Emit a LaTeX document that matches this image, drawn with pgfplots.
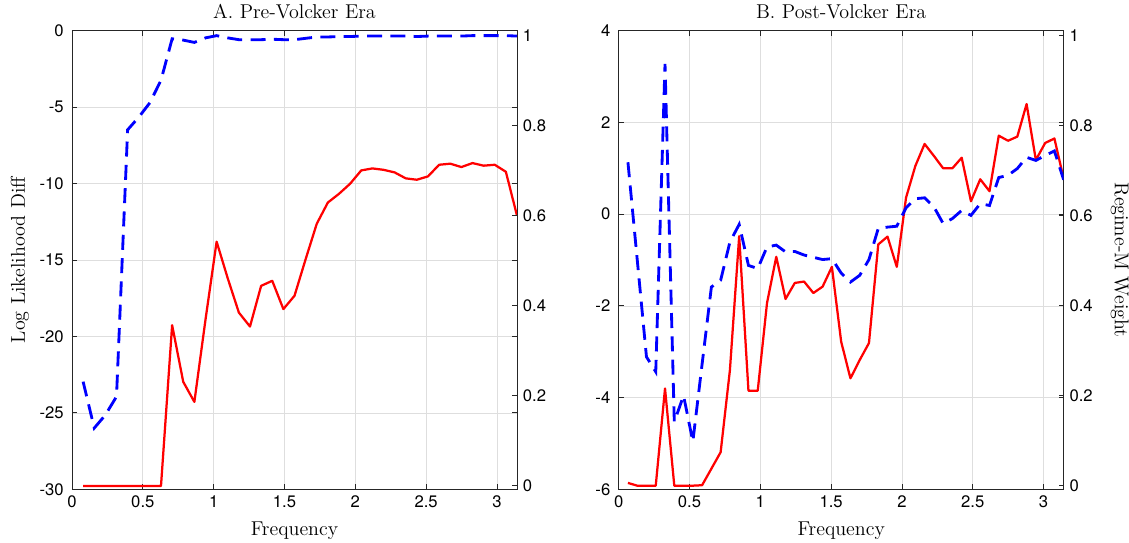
\documentclass[border=0pt]{standalone}
\usepackage{fontspec}
\usepackage{pgfplots}
\usepackage{pgfplotstable}
\pgfplotsset{compat=1.18}
\newfontfamily\heros{TeX Gyre Heros}
\definecolor{axcol}{RGB}{38,38,38}
\definecolor{gridcol}{RGB}{222,222,222}

% Pre-Volcker: x, log likelihood diff (left), regime-M weight (right)
\pgfplotstableread{
x llr w
0.0785 -29.78 0.231
0.1571 -29.78 0.128
0.2356 -29.78 0.157
0.3142 -29.78 0.198
0.3927 -29.78 0.790
0.4712 -29.78 0.818
0.5498 -29.78 0.850
0.6283 -29.78 0.900
0.7069 -19.26 0.992
0.7854 -22.97 0.989
0.8639 -24.28 0.984
0.9425 -18.90 0.994
1.0210 -13.80 0.999
1.0996 -16.20 0.994
1.1781 -18.44 0.990
1.2566 -19.35 0.990
1.3352 -16.69 0.990
1.4137 -16.36 0.991
1.4923 -18.21 0.990
1.5708 -17.34 0.990
1.6493 -14.95 0.993
1.7279 -12.63 0.996
1.8064 -11.24 0.996
1.8850 -10.67 0.997
1.9635 -10.01 0.997
2.0420 -9.14 0.998
2.1206 -9.01 0.998
2.1991 -9.10 0.998
2.2777 -9.27 0.998
2.3562 -9.66 0.998
2.4347 -9.75 0.997
2.5133 -9.53 0.998
2.5918 -8.77 0.998
2.6704 -8.70 0.998
2.7489 -8.92 0.998
2.8274 -8.66 0.999
2.9060 -8.83 0.999
2.9845 -8.77 0.999
3.0631 -9.23 0.999
3.1416 -12.10 0.998
}\dataA

% Post-Volcker
\pgfplotstableread{
x llr w
0.0654 -5.86 0.718
0.1309 -5.92 0.502
0.1963 -5.92 0.286
0.2618 -5.92 0.253
0.3272 -3.80 0.936
0.3927 -5.92 0.142
0.4581 -5.92 0.200
0.5236 -5.92 0.098
0.5890 -5.91 0.270
0.6545 -5.55 0.441
0.7199 -5.19 0.456
0.7854 -3.40 0.541
0.8508 -0.48 0.580
0.9163 -3.85 0.489
0.9817 -3.85 0.482
1.0472 -1.94 0.530
1.1126 -0.93 0.534
1.1781 -1.85 0.519
1.2435 -1.50 0.520
1.3090 -1.47 0.512
1.3744 -1.72 0.507
1.4399 -1.58 0.502
1.5053 -1.15 0.504
1.5708 -2.78 0.472
1.6362 -3.58 0.452
1.7017 -3.18 0.467
1.7671 -2.81 0.502
1.8326 -0.66 0.571
1.8980 -0.49 0.574
1.9635 -1.15 0.576
2.0289 0.36 0.617
2.0944 1.05 0.637
2.1598 1.53 0.639
2.2253 1.27 0.619
2.2907 1.00 0.582
2.3562 1.00 0.593
2.4216 1.23 0.611
2.4871 0.28 0.600
2.5525 0.76 0.626
2.6180 0.50 0.622
2.6834 1.71 0.684
2.7489 1.60 0.689
2.8143 1.69 0.704
2.8798 2.40 0.729
2.9452 1.18 0.722
3.0107 1.55 0.733
3.0761 1.65 0.743
3.1416 0.77 0.679
}\dataB

\pgfplotsset{
  panel/.style={
    scale only axis, width=267pt, height=275.2pt,
    xmin=0, xmax=3.1416,
    anchor=south west,
    tick label style={font=\heros\fontsize{10}{11}\selectfont},
    /pgf/number format/assume math mode=true,
    label style={font=\fontsize{12}{14}\selectfont},
    title style={font=\fontsize{12}{14}\selectfont, yshift=-2.5pt},
    tick align=inside, major tick length=3pt,
    axis line style={axcol, line width=0.5pt},
    every tick/.style={axcol, line width=0.5pt},
  },
  leftax/.style={
    panel,
    xtick={0,0.5,1,1.5,2,2.5,3},
    xtick pos=both, xticklabel pos=bottom,
    ytick pos=both, yticklabel pos=left,
    yticklabel style={xshift=-1.5pt},
    grid=major, grid style={gridcol, line width=0.4pt},
    xlabel style={yshift=-2pt},
  },
  rightax/.style={
    panel,
    axis y line*=right, axis x line=none,
    ymin=-0.008, ymax=1.01,
    ytick={0,0.2,0.4,0.6,0.8,1},
  },
  redline/.style={red, line width=1.35pt, line join=round},
  blueline/.style={blue, line width=1.7pt, dash pattern=on 9pt off 5pt},
}

\begin{document}
\begin{tikzpicture}
\path[use as bounding box] (-43.2pt,-31.6pt) rectangle (634.2pt,293.6pt);

\begin{axis}[leftax, at={(0pt,0pt)},
  ymin=-30, ymax=0, ytick={-30,-25,-20,-15,-10,-5,0},
  title={A. Pre-Volcker Era}, xlabel={Frequency}, ylabel={Log Likelihood Diff},
  ylabel style={yshift=-0.5pt}]
\addplot[redline] table[x=x, y=llr] {\dataA};
\end{axis}
\begin{axis}[rightax, at={(0pt,0pt)}]
\addplot[blueline] table[x=x, y=w] {\dataA};
\end{axis}

\begin{axis}[leftax, at={(328pt,0pt)},
  ymin=-6, ymax=4, ytick={-6,-4,-2,0,2,4},
  title={B. Post-Volcker Era}, xlabel={Frequency}]
\addplot[redline] table[x=x, y=llr] {\dataB};
\end{axis}
\begin{axis}[rightax, at={(328pt,0pt)},
  ylabel={Regime-M Weight}, ylabel style={rotate=180, yshift=4pt}]
\addplot[blueline] table[x=x, y=w] {\dataB};
\end{axis}
\end{tikzpicture}
\end{document}
